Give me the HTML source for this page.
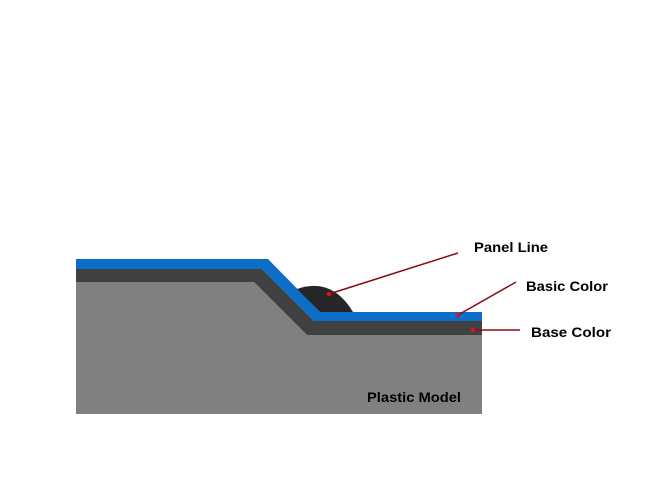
<!DOCTYPE html>
<html><head><style>html,body{margin:0;padding:0;background:#fff;}svg{display:block;}text{font-family:"Liberation Sans",sans-serif;font-weight:bold;font-size:14px;fill:#000;}</style></head>
<body>
<svg width="658" height="493" viewBox="0 0 658 493" xmlns="http://www.w3.org/2000/svg">
<rect width="658" height="493" fill="#fff"/>
<!-- gray base -->
<polygon points="76,282 254,282 307,335 482,335 482,414 76,414" fill="#808080"/>
<!-- dark base color -->
<polygon points="76,269 262,269 314,321 482,321 482,335 307,335 254,282 76,282" fill="#404040"/>
<!-- blue basic color -->
<polygon points="76,259 268,259 320,312 482,312 482,321 314,321 262,269 76,269" fill="#0b6ec9"/>
<!-- panel line blob -->
<path d="M297,289 Q332,277 353,312 L320,312 Z" fill="#262626"/>
<!-- leaders -->
<g stroke="#8b0a14" stroke-width="1.5" fill="none">
<line x1="329" y1="294" x2="458" y2="253"/>
<line x1="458" y1="315" x2="516" y2="282"/>
<line x1="473" y1="330" x2="520" y2="330"/>
</g>
<g fill="#e0101c">
<circle cx="329" cy="294" r="2.2"/>
<circle cx="458" cy="315" r="2.2"/>
<circle cx="473" cy="330" r="2.2"/>
</g>
<text x="474" y="252" textLength="74" lengthAdjust="spacingAndGlyphs">Panel Line</text>
<text x="526" y="291" textLength="82" lengthAdjust="spacingAndGlyphs">Basic Color</text>
<text x="531" y="337" textLength="80" lengthAdjust="spacingAndGlyphs">Base Color</text>
<text x="367" y="402" textLength="94" lengthAdjust="spacingAndGlyphs">Plastic Model</text>
</svg>
</body></html>
